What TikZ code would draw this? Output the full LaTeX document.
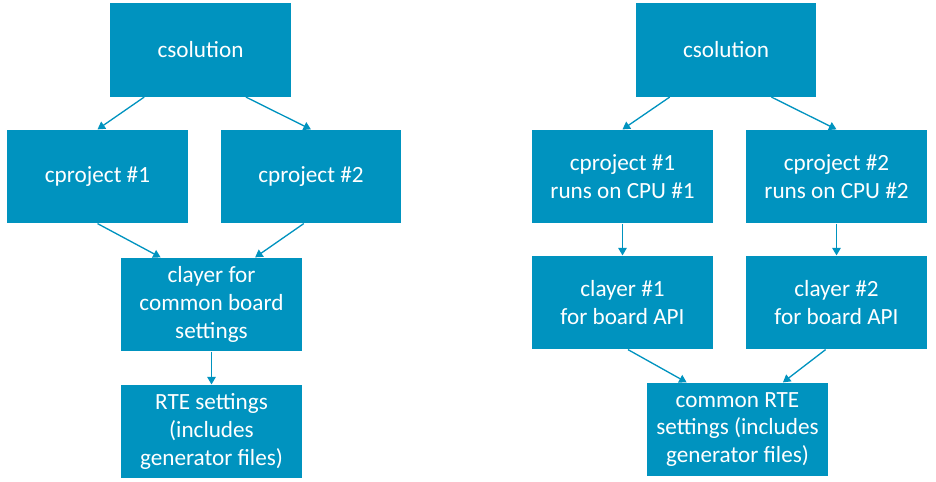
\documentclass[tikz,border=0pt]{standalone}
\usepackage{fontspec}
\setmainfont{Carlito}
\usetikzlibrary{calc,arrows.meta}

\definecolor{boxblue}{HTML}{0093BF}

\tikzset{
	block/.style={fill=boxblue, text=white, minimum width=3.62cm, minimum height=1.87cm,
		inner sep=0pt, align=center, font=\fontsize{13.2}{15.7}\selectfont},
	link/.style={draw=boxblue, line width=0.75pt, -{Triangle[length=0.15cm,width=0.17cm]}}
}

\begin{document}
\begin{tikzpicture}[x=0.02cm,y=-0.02cm]
		\useasboundingbox (0,0) rectangle (936,482);
		
		%left tree
		\node[block] (sol) at (200.5,50) {csolution};
		\node[block] (projA) at (97.5,176.5) {cproject \#1};
		\node[block] (projB) at (311,176.5) {cproject \#2};
		\node[block] (layer) at (211.5,304.5) {clayer for\\common board\\settings};
		\node[block] (rte) at (211.5,431.5) {RTE settings\\(includes\\generator files)};
		
		\draw[link] ($(sol.south west)!0.19!(sol.south east)$) -- (projA.north);
		\draw[link] ($(sol.south west)!0.75!(sol.south east)$) -- (projB.north);
		\draw[link] (projA.south) -- ($(layer.north west)!0.22!(layer.north east)$);
		\draw[link] ($(projB.south west)!0.46!(projB.south east)$) -- ($(layer.north west)!0.74!(layer.north east)$);
		\draw[link] (layer.south) -- (rte.north);
		
		%right tree
		\node[block] (solR) at (726,50) {csolution};
		\node[block] (projC) at (622.5,176.5) {cproject \#1\\runs on CPU \#1};
		\node[block] (projD) at (836.5,176.5) {cproject \#2\\runs on CPU \#2};
		\node[block] (layerC) at (622.5,302.5) {clayer \#1\\for board API};
		\node[block] (layerD) at (836.5,302.5) {clayer \#2\\for board API};
		\node[block] (rteR) at (737.5,429.5) {common RTE\\settings (includes\\generator files)};
		
		\draw[link] ($(solR.south west)!0.19!(solR.south east)$) -- (projC.north);
		\draw[link] ($(solR.south west)!0.75!(solR.south east)$) -- (projD.north);
		\draw[link] (projC.south) -- (layerC.north);
		\draw[link] (projD.south) -- (layerD.north);
		\draw[link] ($(layerC.south west)!0.53!(layerC.south east)$) -- ($(rteR.north west)!0.22!(rteR.north east)$);
		\draw[link] ($(layerD.south west)!0.44!(layerD.south east)$) -- ($(rteR.north west)!0.75!(rteR.north east)$);
\end{tikzpicture}
\end{document}
